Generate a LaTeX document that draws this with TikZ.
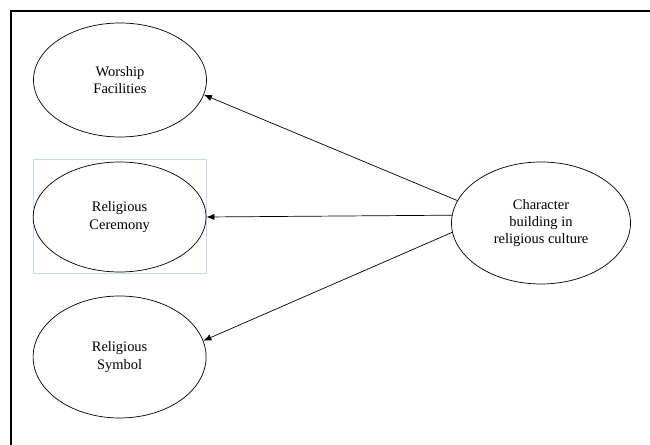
\documentclass[tikz,border=0pt]{standalone}
\usepackage{fontspec}
\setmainfont{Liberation Serif}
\usetikzlibrary{shapes.geometric,arrows.meta}
\definecolor{selblue}{RGB}{198,216,238}
\begin{document}
\begin{tikzpicture}[
    ell/.style={draw,ellipse,inner sep=0pt,align=center,line width=0.5pt,
        font=\fontsize{10.3}{12.2}\selectfont},
    arr/.style={-{Latex[length=2mm,width=1.6mm]},line width=0.5pt}]
    \useasboundingbox (0,0) rectangle (16.25,11.125);
    \draw[line width=1.4pt] (0.275,0) -- (0.275,10.85) -- (16.25,10.85);
    \draw[selblue,line width=0.7pt] (0.825,4.275) rectangle (5.15,7.125);

    \node[ell,minimum width=4.325cm,minimum height=2.85cm] (wf) at (3.0,9.125) {Worship\\Facilities};
    \node[ell,minimum width=4.325cm,minimum height=2.75cm] (rc) at (2.99,5.7) {Religious\\Ceremony};
    \node[ell,minimum width=4.325cm,minimum height=3.05cm] (rs) at (2.99,2.2) {Religious\\Symbol};
    \node[ell,minimum width=4.475cm,minimum height=3.05cm] (cb) at (13.525,5.55) {Character\\building in\\religious culture};

    \draw[arr] (cb.165) -- (wf.-10);
    \draw[arr] (cb.175.5) -- (rc.east);
    \draw[arr] (cb.-174) -- (rs.11);
\end{tikzpicture}
\end{document}
